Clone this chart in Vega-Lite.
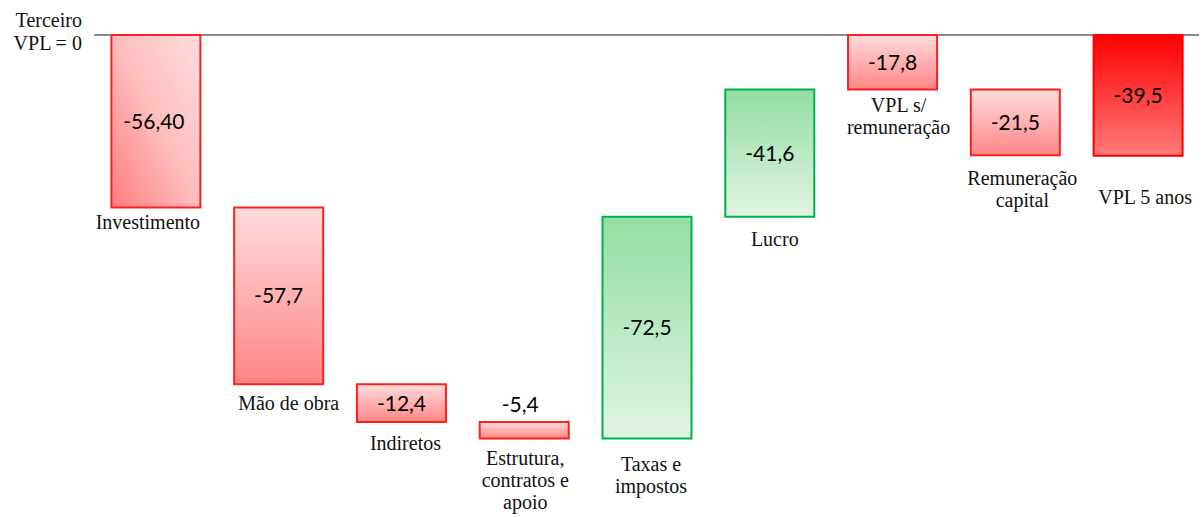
{
  "$schema": "https://vega.github.io/schema/vega-lite/v6.json",
  "autosize": {"type": "none"},
  "padding": {"left": 94.5, "top": 35, "right": 4.5, "bottom": 23},
  "width": 1105,
  "height": 459,
  "background": "white",
  "config": {"view": {"stroke": null}},
  "data": {
    "values": [
      {"cat": "Investimento", "label": "Investimento", "start": 0, "end": -56.4, "value": "-56,40"},
      {"cat": "Mão de obra", "label": "Mão de obra", "start": -56.4, "end": -114.1, "value": "-57,7"},
      {"cat": "Indiretos", "label": "Indiretos", "start": -114.1, "end": -126.5, "value": "-12,4"},
      {"cat": "Estrutura", "label": "Estrutura,\ncontratos e\napoio", "start": -126.5, "end": -131.9, "value": "-5,4"},
      {"cat": "Taxas", "label": "Taxas e\nimpostos", "start": -131.9, "end": -59.4, "value": "-72,5"},
      {"cat": "Lucro", "label": "Lucro", "start": -59.4, "end": -17.8, "value": "-41,6"},
      {"cat": "VPL s/ remuneração", "label": "VPL s/\nremuneração", "start": 0, "end": -17.8, "value": "-17,8"},
      {"cat": "Remuneração capital", "label": "Remuneração\ncapital", "start": -17.8, "end": -39.3, "value": "-21,5"},
      {"cat": "VPL 5 anos", "label": "VPL 5 anos", "start": 0, "end": -39.5, "value": "-39,5"}
    ]
  },
  "transform": [
    {"calculate": "(datum.start + datum.end) / 2", "as": "mid"},
    {"calculate": "min(datum.start, datum.end)", "as": "lo"}
  ],
  "encoding": {
    "x": {"field": "cat", "type": "nominal", "sort": null, "axis": null,
          "scale": {"domain": ["Investimento", "Mão de obra", "Indiretos", "Estrutura", "Taxas", "Lucro", "VPL s/ remuneração", "Remuneração capital", "VPL 5 anos"],
                    "paddingInner": 0.275, "paddingOuter": 0.1375}}
  },
  "layer": [
    {
      "mark": {"type": "rule", "color": "#8a8a8a", "strokeWidth": 1.6},
      "encoding": {"x": {"value": 0}, "x2": {"value": 1104}, "y": {"datum": 0, "type": "quantitative", "scale": {"domain": [-150, 0], "nice": false}, "axis": null}}
    },
    {
      "transform": [{"filter": "indexof(['Mão de obra','Indiretos','Estrutura','VPL s/ remuneração','Remuneração capital'], datum.cat) >= 0"}],
      "mark": {"type": "bar", "stroke": "#ff1f1f", "strokeWidth": 2,
        "fill": {"gradient": "linear", "x1": 0, "y1": 0, "x2": 0, "y2": 1,
          "stops": [{"offset": 0, "color": "#ffdcdc"}, {"offset": 1, "color": "#ff8585"}]}},
      "encoding": {"y": {"field": "start", "type": "quantitative", "scale": {"domain": [-150, 0], "nice": false}, "axis": null}, "y2": {"field": "end"}}
    },
    {
      "transform": [{"filter": "datum.cat === 'Investimento'"}],
      "mark": {"type": "bar", "stroke": "#ff1f1f", "strokeWidth": 2,
        "fill": {"gradient": "linear", "x1": 1, "y1": 0, "x2": 0, "y2": 1,
          "stops": [{"offset": 0, "color": "#ffdddd"}, {"offset": 0.5, "color": "#ffbdbd"}, {"offset": 1, "color": "#ff7d7d"}]}},
      "encoding": {"y": {"field": "start", "type": "quantitative", "scale": {"domain": [-150, 0], "nice": false}, "axis": null}, "y2": {"field": "end"}}
    },
    {
      "transform": [{"filter": "datum.cat === 'Taxas' || datum.cat === 'Lucro'"}],
      "mark": {"type": "bar", "stroke": "#00b050", "strokeWidth": 2,
        "fill": {"gradient": "linear", "x1": 0, "y1": 0, "x2": 0, "y2": 1,
          "stops": [{"offset": 0, "color": "#93dea1"}, {"offset": 1, "color": "#e0f4e4"}]}},
      "encoding": {"y": {"field": "start", "type": "quantitative", "scale": {"domain": [-150, 0], "nice": false}, "axis": null}, "y2": {"field": "end"}}
    },
    {
      "transform": [{"filter": "datum.cat === 'VPL 5 anos'"}],
      "mark": {"type": "bar", "stroke": "#ff0000", "strokeWidth": 2,
        "fill": {"gradient": "linear", "x1": 0, "y1": 0, "x2": 0, "y2": 1,
          "stops": [{"offset": 0, "color": "#ff0000"}, {"offset": 1, "color": "#ff7a7a"}]}},
      "encoding": {"y": {"field": "start", "type": "quantitative", "scale": {"domain": [-150, 0], "nice": false}, "axis": null}, "y2": {"field": "end"}}
    },
    {
      "mark": {"type": "text", "font": "Lato", "fontSize": 21, "color": "#000000", "baseline": "middle", "align": "center",
        "dy": {"expr": "datum.cat === 'Estrutura' ? -24 : 1.5"},
        "dx": {"expr": "datum.cat === 'Estrutura' ? -4 : datum.cat === 'Investimento' ? -2 : 0"}},
      "encoding": {
        "y": {"field": "mid", "type": "quantitative", "scale": {"domain": [-150, 0], "nice": false}, "axis": null},
        "text": {"field": "value"}
      }
    },
    {
      "mark": {"type": "text", "font": "Liberation Serif", "fontSize": 20, "color": "#111111", "baseline": "alphabetic", "align": "center",
        "lineBreak": "\n", "lineHeight": 22,
        "dy": {"expr": "({'Investimento': 21, 'Mão de obra': 26, 'Indiretos': 28, 'Estrutura': 26, 'Taxas': 32, 'Lucro': 29, 'VPL s/ remuneração': 23, 'Remuneração capital': 30, 'VPL 5 anos': 48})[datum.cat]"},
        "dx": {"expr": "({'Investimento': -8, 'Mão de obra': 10, 'Indiretos': 4, 'Estrutura': 1, 'Taxas': 4, 'Lucro': 5, 'VPL s/ remuneração': 6, 'Remuneração capital': 7, 'VPL 5 anos': 7})[datum.cat]"}},
      "encoding": {
        "y": {"field": "lo", "type": "quantitative", "scale": {"domain": [-150, 0], "nice": false}, "axis": null},
        "text": {"field": "label"}
      }
    },
    {
      "data": {"values": [{"note": "Terceiro\nVPL  = 0"}]},
      "transform": [],
      "mark": {"type": "text", "font": "Liberation Serif", "fontSize": 20, "color": "#111111", "baseline": "alphabetic", "align": "right",
        "lineBreak": "\n", "lineHeight": 23, "dy": -8, "dx": -74},
      "encoding": {
        "x": {"datum": "Investimento"},
        "y": {"datum": 0, "type": "quantitative", "scale": {"domain": [-150, 0], "nice": false}, "axis": null},
        "text": {"field": "note"}
      }
    }
  ]
}
